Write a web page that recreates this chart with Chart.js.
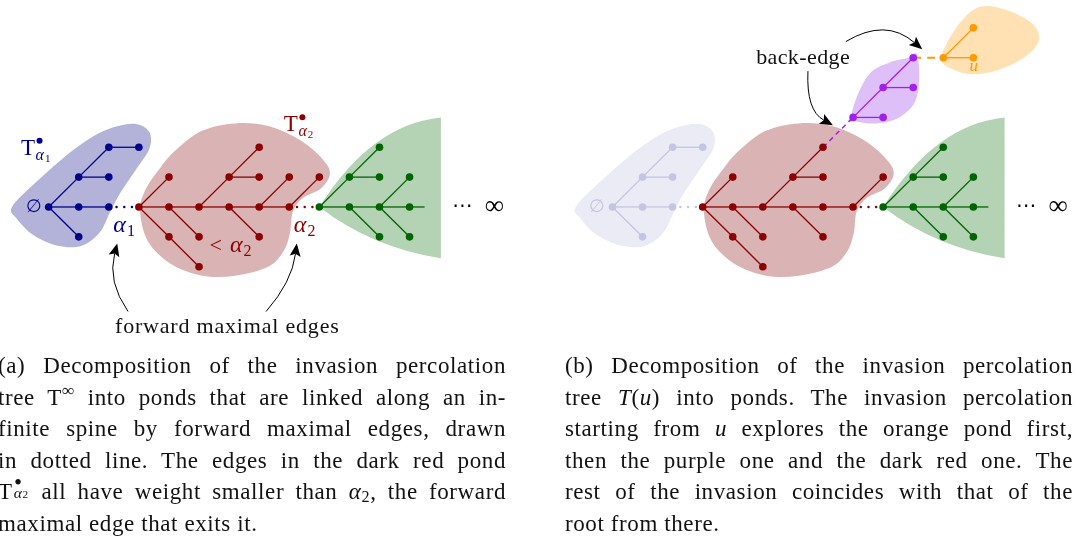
<!DOCTYPE html>
<html>
<head>
<meta charset="utf-8">
<script src="https://cdn.jsdelivr.net/npm/chart.js@4.4.1/dist/chart.umd.min.js"></script>
<style>
  html, body { margin: 0; padding: 0; background: #fff; }
  #wrap { position: relative; width: 1078px; height: 545px; overflow: hidden; }
  #wrap canvas { position: absolute; left: 0; top: 0; }
  .cap { position: absolute; top: 350px; width: 508px; font-family: 'Liberation Serif', serif; font-size: 23px; letter-spacing: 0.6px; color: #111; }
  .cap div { height: 31.6px; line-height: 31.6px; text-align: justify; text-align-last: justify; }
  .cap div.last { text-align-last: left; }
  .ss { position: relative; display: inline-block; width: 0.72em; height: 1em; margin-left: 1px; }
  .ss .dot { position: absolute; left: 0.02em; top: -0.25em; line-height: 1; }
  .ss .sb { position: absolute; left: 0; top: 0.58em; font-size: 0.68em; line-height: 1; }
  .ss .sb span { font-size: 0.72em; }
  sup { font-size: 0.75em; vertical-align: 0.5em; line-height: 0; }
</style>
</head>
<body>
<div id="wrap">
  <canvas id="c" width="1078" height="545"></canvas>
  <div class="cap" style="left:-2px;">
    <div>(a) Decomposition of the invasion percolation</div>
    <div>tree T<sup>∞</sup> into ponds that are linked along an in-</div>
    <div>finite spine by forward maximal edges, drawn</div>
    <div>in dotted line. The edges in the dark red pond</div>
    <div>T<span class="ss"><span class="dot">•</span><span class="sb"><i>α</i><span>2</span></span></span> all have weight smaller than <i>α</i><span style="font-size:0.7em;vertical-align:-0.2em">2</span>, the forward</div>
    <div class="last">maximal edge that exits it.</div>
  </div>
  <div class="cap" style="left:565px;">
    <div>(b) Decomposition of the invasion percolation</div>
    <div>tree <i>T</i>(<i>u</i>) into ponds. The invasion percolation</div>
    <div>starting from <i>u</i> explores the orange pond first,</div>
    <div>then the purple one and the dark red one. The</div>
    <div>rest of the invasion coincides with that of the</div>
    <div class="last">root from there.</div>
  </div>
</div>
<script>
// grid: one step between neighbouring vertices
const U = 30.3;
const ORIGIN_X = 45, ORIGIN_Y = 206;
const W = 1078, H = 545;
const B_SHIFT = 568 / U;   // panel (b) sits to the right of panel (a)
const SERIF = "'Liberation Serif', 'DejaVu Serif', serif";

// ---- trees (vertex grid positions, edges as index pairs) ----
const blueNodes = [[0,0],[1,0],[2,0],[1,1],[2,1],[2,2],[3,2],[1,-1]];
const blueEdges = [[0,1],[1,2],[0,3],[3,4],[3,5],[5,6],[0,7]];

const redNodesA = [[3,0],[4,0],[5,0],[6,0],[7,0],[8,0],[4,1],[6,1],[7,1],[7,2],[8,1],[9,1],[4,-1],[5,-2],[5,-1],[7,-1]];
const redEdgesA = [[0,1],[1,2],[2,3],[3,4],[4,5],[0,6],[0,12],[12,13],[1,14],[2,7],[7,9],[7,8],[3,15],[4,10],[5,11]];

const redNodesB = [[3,0],[4,0],[5,0],[6,0],[7,0],[8,0],[4,1],[6,1],[7,1],[7,2],[9,1],[4,-1],[5,-2],[5,-1],[7,-1]];
const redEdgesB = [[0,1],[1,2],[2,3],[3,4],[4,5],[0,6],[0,11],[11,12],[1,13],[2,7],[7,9],[7,8],[3,14],[5,10]];

const greenNodes = [[9,0],[10,0],[11,0],[12,0],[10,1],[11,2],[11,1],[12,1],[11,-1],[12,-1]];
const greenEdges = [[0,1],[1,2],[2,3],[0,4],[4,5],[4,6],[2,7],[1,8],[2,9]];
const greenTail = [[12,0],[12.5,0]];

const purpleNodes = [[8,3],[9,3],[9,4],[10,4],[10,5]];
const purpleEdges = [[0,1],[0,2],[2,3],[2,4]];

const orangeNodes = [[11,5],[12,5],[12,6]];
const orangeEdges = [[0,1],[0,2]];

// forward maximal edges (dotted) and the back-edge links (dashed)
const forwardEdge1 = [[2,0],[3,0]];
const forwardEdge2 = [[8,0],[9,0]];
const backEdge = [[7,2],[8,3]];
const orangeLink = [[10,5],[11,5]];

// pond outlines
const blueBlob = [[-1.22,0],[-0.4,0.85],[0.5,1.65],[1.3,2.25],[2.1,2.65],[2.9,2.78],[3.35,2.5],[3.35,1.95],[2.9,1.25],[2.4,0.5],[2.05,-0.15],[1.7,-0.85],[1.1,-1.3],[0.3,-1.3],[-0.5,-0.95],[-1.05,-0.4]];
const redBlob = [[3.04,-0.13],[3.23,0.6],[3.7,1.3],[4.22,1.9],[5.1,2.55],[6.2,2.8],[7.33,2.7],[8.42,2.2],[9.15,1.55],[9.35,1.1],[9.05,0.62],[8.45,0.3],[8.12,-0.15],[8.02,-0.9],[7.8,-1.5],[7.3,-2.0],[6.2,-2.3],[5.1,-2.3],[4.05,-1.9],[3.3,-1.15]];
const greenBlob = { tip: [9,0], top: [13.04,3.0], bottom: [13.04,-1.72], cTop: [10.73,2.77], cBottom: [10.73,-1.35] };
const purpleBlob = [[7.95,3.0],[8.15,3.75],[8.58,4.5],[9.24,4.85],[9.85,5.0],[10.12,5.12],[10.2,4.3],[10.05,3.5],[9.5,2.98],[8.8,2.8],[8.2,2.85]];
const orangeBlob = [[10.93,5.0],[11.5,6.1],[12.2,6.7],[13.1,6.6],[13.95,6.15],[14.18,5.6],[13.75,5.05],[12.85,4.6],[12.0,4.45],[11.35,4.6]];

const C = {
  blue: '#00008b', blueFill: '#b3b3da',
  fade: '#c4c4e4', fadeFill: '#ebebf5',
  red: '#8b0000', redFill: '#dab4b4',
  green: '#006400', greenFill: '#b4d2b4',
  purple: '#a020f0', purpleFill: '#dfbff8',
  orange: '#ff9900', orangeFill: '#ffe1b3'
};

const pt = (n, dx) => ({ x: n[0] + dx, y: n[1] });

function treeSets(nodes, edges, color, dx) {
  const sets = edges.map(([a, b]) => ({
    data: [pt(nodes[a], dx), pt(nodes[b], dx)],
    showLine: true, borderColor: color, borderWidth: 1.3, pointRadius: 0, order: 2
  }));
  sets.push({
    data: nodes.map(n => pt(n, dx)),
    pointRadius: 3.8, pointBackgroundColor: color, pointBorderWidth: 0, order: 1
  });
  return sets;
}

function linkSet(seg, color, dx, dash, width, cap) {
  return {
    data: seg.map(n => pt(n, dx)), showLine: true, borderColor: color,
    borderWidth: width, borderDash: dash, borderCapStyle: cap || 'butt', pointRadius: 0, order: 3
  };
}

const datasets = [].concat(
  treeSets(blueNodes, blueEdges, C.blue, 0),
  treeSets(redNodesA, redEdgesA, C.red, 0),
  treeSets(greenNodes, greenEdges, C.green, 0),
  [linkSet(greenTail, C.green, 0, [], 1.3)],
  [linkSet(forwardEdge1, C.blue, 0, [0.1, 7.6], 2.4, 'round')],
  [linkSet(forwardEdge2, C.red, 0, [0.1, 7.6], 2.4, 'round')],

  treeSets(blueNodes, blueEdges, C.fade, B_SHIFT),
  treeSets(redNodesB, redEdgesB, C.red, B_SHIFT),
  treeSets(greenNodes, greenEdges, C.green, B_SHIFT),
  treeSets(purpleNodes, purpleEdges, C.purple, B_SHIFT),
  treeSets(orangeNodes, orangeEdges, C.orange, B_SHIFT),
  [linkSet(greenTail, C.green, B_SHIFT, [], 1.3)],
  [linkSet(forwardEdge1, C.fade, B_SHIFT, [0.1, 7.6], 2.4, 'round')],
  [linkSet(forwardEdge2, C.red, B_SHIFT, [0.1, 7.6], 2.4, 'round')],
  [linkSet(backEdge, C.purple, B_SHIFT, [5, 4], 1.5)],
  [linkSet(orangeLink, C.orange, B_SHIFT, [8, 6], 2)]
);

// ---- drawing helpers ----
function px(chart, g, dx) {
  return { x: chart.scales.x.getPixelForValue(g[0] + (dx || 0)), y: chart.scales.y.getPixelForValue(g[1]) };
}

function smoothBlob(ctx, chart, pts, dx, fill) {
  const p = pts.map(g => px(chart, g, dx));
  const n = p.length;
  ctx.beginPath();
  ctx.moveTo(p[0].x, p[0].y);
  for (let i = 0; i < n; i++) {
    const p0 = p[(i - 1 + n) % n], p1 = p[i], p2 = p[(i + 1) % n], p3 = p[(i + 2) % n];
    ctx.bezierCurveTo(p1.x + (p2.x - p0.x) / 6, p1.y + (p2.y - p0.y) / 6,
                      p2.x - (p3.x - p1.x) / 6, p2.y - (p3.y - p1.y) / 6, p2.x, p2.y);
  }
  ctx.closePath();
  ctx.fillStyle = fill;
  ctx.fill();
}

function leafBlob(ctx, chart, b, dx, fill) {
  const t = px(chart, b.tip, dx), a = px(chart, b.top, dx), z = px(chart, b.bottom, dx);
  const c1 = px(chart, b.cTop, dx), c2 = px(chart, b.cBottom, dx);
  ctx.beginPath();
  ctx.moveTo(t.x, t.y);
  ctx.quadraticCurveTo(c1.x, c1.y, a.x, a.y);
  ctx.lineTo(z.x, z.y);
  ctx.quadraticCurveTo(c2.x, c2.y, t.x, t.y);
  ctx.closePath();
  ctx.fillStyle = fill;
  ctx.fill();
}

function arrow(ctx, chart, a, dx) {
  const p0 = px(chart, a[0], dx), c = px(chart, a[1], dx), p1 = px(chart, a[2], dx);
  const ang = Math.atan2(p1.y - c.y, p1.x - c.x);
  const L = 13, Wd = 5.5;
  const cs = Math.cos(ang), sn = Math.sin(ang);
  ctx.strokeStyle = '#000';
  ctx.fillStyle = '#000';
  ctx.lineWidth = 1;
  ctx.beginPath();
  ctx.moveTo(p0.x, p0.y);
  ctx.quadraticCurveTo(c.x, c.y, p1.x - L * 0.8 * cs, p1.y - L * 0.8 * sn);
  ctx.stroke();
  ctx.beginPath();
  ctx.moveTo(p1.x, p1.y);
  ctx.lineTo(p1.x - L * cs - Wd * sn, p1.y - L * sn + Wd * cs);
  ctx.lineTo(p1.x - L * 0.8 * cs, p1.y - L * 0.8 * sn);
  ctx.lineTo(p1.x - L * cs + Wd * sn, p1.y - L * sn - Wd * cs);
  ctx.closePath();
  ctx.fill();
}

function pondLabel(ctx, p, sub, color) {
  ctx.fillStyle = color;
  ctx.textAlign = 'left';
  ctx.textBaseline = 'alphabetic';
  ctx.font = `23px ${SERIF}`;
  ctx.fillText('T', p.x, p.y);
  const w = ctx.measureText('T').width;
  ctx.beginPath();
  ctx.arc(p.x + w + 4.5, p.y - 14, 3, 0, 2 * Math.PI);
  ctx.fill();
  ctx.font = `italic 16px ${SERIF}`;
  ctx.fillText('α', p.x + w + 0.5, p.y + 5);
  const aw = ctx.measureText('α').width;
  ctx.font = `11px ${SERIF}`;
  ctx.fillText(sub, p.x + w + aw + 1.5, p.y + 7);
}

function alphaLabel(ctx, p, sub, color, prefix) {
  ctx.fillStyle = color;
  ctx.textAlign = 'left';
  ctx.textBaseline = 'alphabetic';
  let x = p.x;
  if (prefix) {
    ctx.font = `22px ${SERIF}`;
    ctx.fillText(prefix, x, p.y);
    x += ctx.measureText(prefix).width + 8;
  }
  ctx.font = `italic 24px ${SERIF}`;
  ctx.fillText('α', x, p.y);
  x += ctx.measureText('α').width + 1;
  ctx.font = `16px ${SERIF}`;
  ctx.fillText(sub, x, p.y + 4);
}

function text(ctx, s, p, font, color, spacing) {
  ctx.fillStyle = color;
  ctx.font = font;
  ctx.textAlign = 'center';
  ctx.textBaseline = 'middle';
  ctx.letterSpacing = spacing || '0px';
  ctx.fillText(s, p.x, p.y);
  ctx.letterSpacing = '0px';
}

// arrow curves (start, control, tip) in grid units
const arrowsA = [
  [[2.64,-3.50],[1.95,-2.51],[2.28,-1.22]],
  [[7.23,-3.50],[8.09,-2.51],[8.25,-1.22]]
];
const arrowsB = [
  [[7.76,5.54],[9.08,6.34],[10.30,5.28]],
  [[6.50,4.55],[6.44,3.23],[7.33,2.74]]
];

const pondPlugin = {
  id: 'ponds',
  beforeDatasetsDraw(chart) {
    const ctx = chart.ctx;
    ctx.save();
    // panel (a)
    smoothBlob(ctx, chart, blueBlob, 0, C.blueFill);
    smoothBlob(ctx, chart, redBlob, 0, C.redFill);
    leafBlob(ctx, chart, greenBlob, 0, C.greenFill);
    // panel (b)
    smoothBlob(ctx, chart, blueBlob, B_SHIFT, C.fadeFill);
    smoothBlob(ctx, chart, redBlob, B_SHIFT, C.redFill);
    leafBlob(ctx, chart, greenBlob, B_SHIFT, C.greenFill);
    smoothBlob(ctx, chart, purpleBlob, B_SHIFT, C.purpleFill);
    smoothBlob(ctx, chart, orangeBlob, B_SHIFT, C.orangeFill);
    ctx.restore();
  },
  afterDatasetsDraw(chart) {
    const ctx = chart.ctx;
    ctx.save();
    // panel (a)
    text(ctx, '∅', px(chart, [-0.5, 0]), `18px 'DejaVu Serif', serif`, C.blue);
    pondLabel(ctx, px(chart, [-0.92, 1.75]), '1', C.blue);
    pondLabel(ctx, px(chart, [7.82, 2.54]), '2', C.red);
    alphaLabel(ctx, px(chart, [2.15, -0.83]), '1', C.blue);
    alphaLabel(ctx, px(chart, [8.15, -0.83]), '2', C.red);
    alphaLabel(ctx, px(chart, [5.35, -1.52]), '2', C.red, '<');
    text(ctx, '⋯', px(chart, [13.76, 0]), `20px 'DejaVu Sans', sans-serif`, '#000');
    text(ctx, '∞', px(chart, [14.82, 0]), `27px ${SERIF}`, '#000');
    text(ctx, 'forward maximal edges', px(chart, [5.94, -4.03]), `22px ${SERIF}`, '#111', '0.8px');
    arrowsA.forEach(a => arrow(ctx, chart, a, 0));
    // panel (b)
    text(ctx, '∅', px(chart, [-0.5, 0], B_SHIFT), `18px 'DejaVu Serif', serif`, C.fade);
    text(ctx, '⋯', px(chart, [13.76, 0], B_SHIFT), `20px 'DejaVu Sans', sans-serif`, '#000');
    text(ctx, '∞', px(chart, [14.82, 0], B_SHIFT), `27px ${SERIF}`, '#000');
    text(ctx, 'back-edge', px(chart, [6.34, 4.98], B_SHIFT), `22px ${SERIF}`, '#111', '0.4px');
    text(ctx, 'u', px(chart, [12.01, 4.69], B_SHIFT), `italic 17px ${SERIF}`, C.orange);
    arrowsB.forEach(a => arrow(ctx, chart, a, B_SHIFT));
    ctx.restore();
  }
};

new Chart(document.getElementById('c'), {
  type: 'scatter',
  data: { datasets },
  options: {
    responsive: false,
    animation: false,
    events: [],
    layout: { padding: 0 },
    scales: {
      x: { type: 'linear', display: false, min: -ORIGIN_X / U, max: (W - ORIGIN_X) / U },
      y: { type: 'linear', display: false, min: (ORIGIN_Y - H) / U, max: ORIGIN_Y / U }
    },
    plugins: { legend: { display: false }, tooltip: { enabled: false } }
  },
  plugins: [pondPlugin]
});
</script>
</body>
</html>
